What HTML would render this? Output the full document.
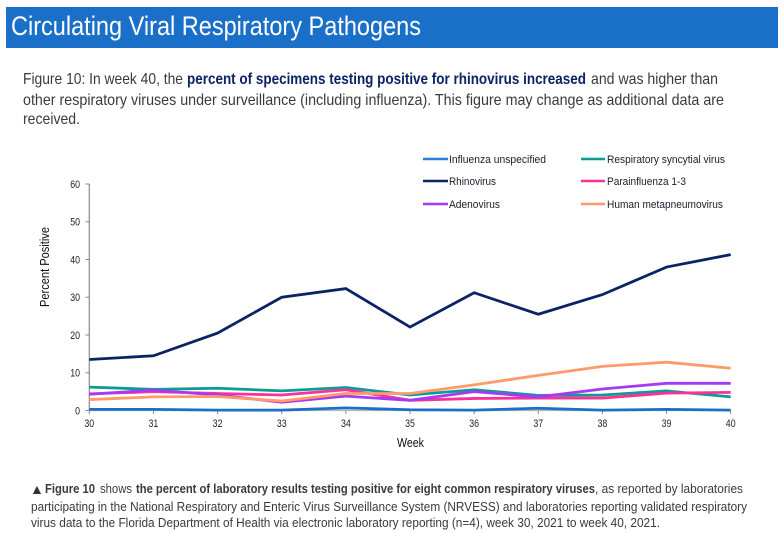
<!DOCTYPE html>
<html lang="en">
<head>
<meta charset="utf-8">
<title>Circulating Viral Respiratory Pathogens</title>
<style>
html,body{margin:0;padding:0;background:#fff;}
svg{display:block;}
text{font-family:"Liberation Sans Narrow","Liberation Sans",sans-serif;}
.body{font-size:16px;fill:#3a3a3a;}
.bold{font-weight:700;}
.foot{font-size:13px;fill:#3a3a3a;}
.leg{font-size:11px;fill:#1c1c2c;}
.tick{font-size:11px;fill:#222;}
.axt{font-size:12.5px;fill:#111;}
</style>
</head>
<body>
<svg id="page" width="781" height="533" viewBox="0 0 781 533" xmlns="http://www.w3.org/2000/svg">
<rect width="781" height="533" fill="#fff"/>
<rect x="6" y="7" width="772" height="41" fill="#1a70c8"/>
<text x="11" y="35" font-size="27" fill="#fff" textLength="410" lengthAdjust="spacingAndGlyphs">Circulating Viral Respiratory Pathogens</text>

<g>
<text class="body" x="23" y="84" textLength="160" lengthAdjust="spacingAndGlyphs">Figure 10: In week 40, the</text>
<text class="body bold" x="187" y="84" style="fill:#0b2265" textLength="399" lengthAdjust="spacingAndGlyphs">percent of specimens testing positive for rhinovirus increased</text>
<text class="body" x="591" y="84" textLength="127" lengthAdjust="spacingAndGlyphs">and was higher than</text>
<text class="body" x="23" y="105" textLength="701" lengthAdjust="spacingAndGlyphs">other respiratory viruses under surveillance (including influenza). This figure may change as additional data are</text>
<text class="body" x="23" y="124" textLength="57" lengthAdjust="spacingAndGlyphs">received.</text>
</g>

<g>
<g><line x1="423" x2="448" y1="159" y2="159" stroke="#2a7fdc" stroke-width="2.5"/><text class="leg" x="449" y="163" textLength="97" lengthAdjust="spacingAndGlyphs">Influenza unspecified</text></g>
<g><line x1="581" x2="605" y1="159" y2="159" stroke="#0e9b94" stroke-width="2.5"/><text class="leg" x="607" y="163" textLength="118" lengthAdjust="spacingAndGlyphs">Respiratory syncytial virus</text></g>
<g><line x1="423" x2="448" y1="181" y2="181" stroke="#0b2265" stroke-width="2.5"/><text class="leg" x="449" y="185" textLength="47" lengthAdjust="spacingAndGlyphs">Rhinovirus</text></g>
<g><line x1="581" x2="605" y1="181" y2="181" stroke="#f7339a" stroke-width="2.5"/><text class="leg" x="607" y="185" textLength="79" lengthAdjust="spacingAndGlyphs">Parainfluenza 1-3</text></g>
<g><line x1="423" x2="448" y1="204" y2="204" stroke="#a53af5" stroke-width="2.5"/><text class="leg" x="449" y="208" textLength="51" lengthAdjust="spacingAndGlyphs">Adenovirus</text></g>
<g><line x1="581" x2="605" y1="204" y2="204" stroke="#ff9a6b" stroke-width="2.5"/><text class="leg" x="607" y="208" textLength="116" lengthAdjust="spacingAndGlyphs">Human metapneumovirus</text></g>
</g>

<g id="chart"></g>
<text class="axt" transform="translate(49,307) rotate(-90)" textLength="80" lengthAdjust="spacingAndGlyphs">Percent Positive</text>
<text class="axt" x="397" y="447" textLength="27" lengthAdjust="spacingAndGlyphs">Week</text>

<g>
<text x="30" y="494" font-size="14" fill="#333">▲</text>
<text class="foot bold" x="45" y="493" textLength="50" lengthAdjust="spacingAndGlyphs">Figure 10</text>
<text class="foot" x="100" y="493" textLength="32" lengthAdjust="spacingAndGlyphs">shows</text>
<text class="foot bold" x="136" y="493" textLength="459" lengthAdjust="spacingAndGlyphs">the percent of laboratory results testing positive for eight common respiratory viruses</text>
<text class="foot" x="595" y="493" textLength="148" lengthAdjust="spacingAndGlyphs">, as reported by laboratories</text>
<text class="foot" x="31" y="511" textLength="716" lengthAdjust="spacingAndGlyphs">participating in the National Respiratory and Enteric Virus Surveillance System (NRVESS) and laboratories reporting validated respiratory</text>
<text class="foot" x="31" y="527" textLength="629" lengthAdjust="spacingAndGlyphs">virus data to the Florida Department of Health via electronic laboratory reporting (n=4), week 30, 2021 to week 40, 2021.</text>
</g>
</svg>
<script>
const weeks = [30, 31, 32, 33, 34, 35, 36, 37, 38, 39, 40];
const yTicks = [0, 10, 20, 30, 40, 50, 60];
const influenza = [0.3, 0.3, 0.1, 0.1, 0.7, 0.2, 0.1, 0.6, 0.1, 0.3, 0.1];
const rsv = [6.2, 5.6, 5.9, 5.2, 6.1, 4.1, 5.5, 4.0, 4.1, 5.2, 3.6];
const rhinovirus = [13.5, 14.5, 20.5, 30.0, 32.3, 22.1, 31.2, 25.5, 30.7, 38.0, 41.3];
const parainfluenza = [4.4, 5.0, 4.5, 4.1, 5.5, 2.7, 3.2, 3.3, 3.3, 4.6, 4.8];
const adenovirus = [4.3, 5.4, 4.1, 2.2, 3.8, 2.7, 5.0, 3.6, 5.7, 7.2, 7.2];
const hmpv = [2.9, 3.6, 3.7, 2.5, 4.5, 4.5, 6.8, 9.3, 11.7, 12.8, 11.2];

const NS = 'http://www.w3.org/2000/svg';
const chart = document.getElementById('chart');
const xScale = function (w) { return 89.3 + (w - 30) * (730.7 - 89.3) / 10; };
const yScale = function (v) { return 410.5 - v * (410.5 - 184) / 60; };

function make(tag, attrs) {
  const el = document.createElementNS(NS, tag);
  for (const k in attrs) { el.setAttribute(k, attrs[k]); }
  chart.appendChild(el);
  return el;
}

function tickWidth(v) { return String(v).length * 4.9; }

yTicks.forEach(function (t) {
  const y = yScale(t);
  const mark = make('line', { x1: 85.5, x2: 89.3, y1: y, y2: y, stroke: '#8a8a8a', 'stroke-width': 1 });
  
  
  const label = make('text', { x: 80, y: y + 3.8, 'text-anchor': 'end', class: 'tick', textLength: tickWidth(t), lengthAdjust: 'spacingAndGlyphs' });
  
  
  label.textContent = t;
});
weeks.forEach(function (w) {
  const x = xScale(w);
  const mark = make('line', { x1: x, x2: x, y1: 410.5, y2: 414, stroke: '#8a8a8a', 'stroke-width': 1 });
  
  
  const label = make('text', { x: x, y: 427, 'text-anchor': 'middle', class: 'tick', textLength: tickWidth(w), lengthAdjust: 'spacingAndGlyphs' });
  
  
  label.textContent = w;
});

const yAxis = make('line', { x1: 89.3, x2: 89.3, y1: yScale(60), y2: yScale(0), stroke: '#8a8a8a', 'stroke-width': 1.2 });


const xAxis = make('line', { x1: 89.3, x2: 730.7, y1: yScale(0), y2: yScale(0), stroke: '#b5b5b5', 'stroke-width': 1.2 });



function points(values) {
  return values.map(function (v, i) { return xScale(weeks[i]) + ',' + yScale(v); }).join(' ');
}

const lineInfluenza = make('polyline', { points: points(influenza), fill: 'none', stroke: '#1a70c8', 'stroke-width': 2.8 });


const lineRsv = make('polyline', { points: points(rsv), fill: 'none', stroke: '#0e9b94', 'stroke-width': 2.8 });


const lineRhino = make('polyline', { points: points(rhinovirus), fill: 'none', stroke: '#0b2265', 'stroke-width': 2.8 });


const linePara = make('polyline', { points: points(parainfluenza), fill: 'none', stroke: '#f7339a', 'stroke-width': 2.8 });


const lineAdeno = make('polyline', { points: points(adenovirus), fill: 'none', stroke: '#a53af5', 'stroke-width': 2.8 });


const lineHmpv = make('polyline', { points: points(hmpv), fill: 'none', stroke: '#ff9a6b', 'stroke-width': 2.8 });


</script>
</body>
</html>
